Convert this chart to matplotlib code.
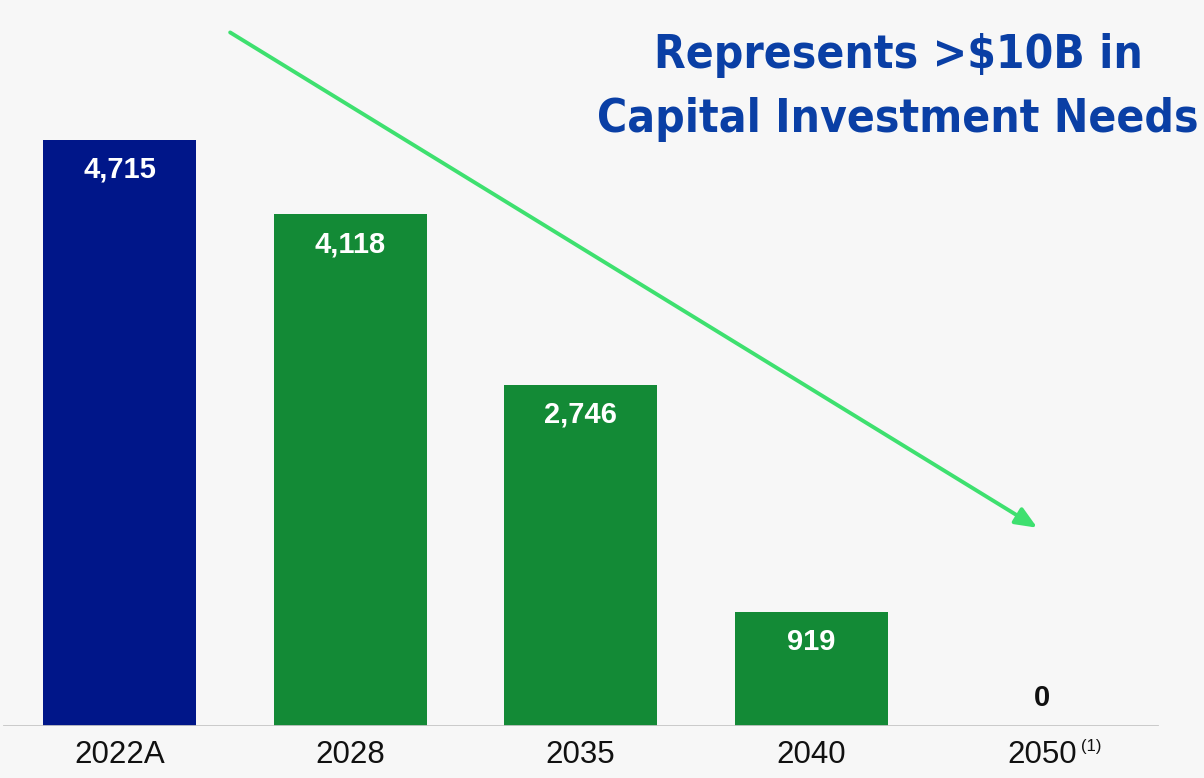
import matplotlib.pyplot as plt
from matplotlib import font_manager

# data
years = ['2022A', '2028', '2035', '2040', '2050']
capacity = [4715, 4118, 2746, 919, 0]
bar_colors = ['#001689', '#138a36', '#138a36', '#138a36', '#138a36']
footnote = '(1)'
headline = ['Represents >$10B in', 'Capital Investment Needs']

# trend arrow ends (data units)
arrow_start = (0.48, 5580)
arrow_end = (3.98, 1595)

# pick a condensed bold face if one is around
head_font = dict(family='DejaVu Sans', stretch='normal')
for f in font_manager.fontManager.ttflist:
    if f.name == 'Liberation Sans Narrow':
        head_font = dict(family='Liberation Sans Narrow', stretch='normal')
        break
    if f.name == 'DejaVu Sans' and f.stretch == 'condensed':
        head_font = dict(family='DejaVu Sans', stretch='condensed')

plt.rcParams['font.family'] = ['Liberation Sans', 'DejaVu Sans']

bg = '#f7f7f7'
fig = plt.figure(figsize=(12.04, 7.78), dpi=100, facecolor=bg)
ax = fig.add_axes([0, 52 / 778, 1, 726 / 778])
ax.set_facecolor(bg)

x = range(len(years))
bars = ax.bar(x, capacity, width=0.664, color=bar_colors, zorder=2)

ax.set_xlim(-0.518, 4.703)
ax.set_ylim(0, 5841)
ax.axhline(0, xmin=4 / 1204, xmax=1157 / 1204, color='#c6c6c6', lw=2, zorder=3)

for s in ax.spines.values():
    s.set_visible(False)
ax.set_yticks([])
ax.set_xticks(list(x))
ax.set_xticklabels(years, fontsize=22.5, color='#111111')
ax.tick_params(axis='x', length=0, pad=10)

# superscript footnote on last label
ax.annotate(footnote, xy=(x[-1], 0), xytext=(28, -15), textcoords='offset points',
            fontsize=12, color='#111111', ha='left', va='center',
            annotation_clip=False)

for xi, v in zip(x, capacity):
    if v > 0:
        ax.annotate(f'{v:,}', xy=(xi, v), xytext=(0, -21.5), textcoords='offset points',
                    ha='center', va='center', fontsize=21, fontweight='bold',
                    color='white', zorder=4)
    else:
        ax.annotate(f'{v:,}', xy=(xi, v), xytext=(0, 20), textcoords='offset points',
                    ha='center', va='center', fontsize=21, fontweight='bold',
                    color='#111111', zorder=4)

ax.annotate('', xy=arrow_end, xytext=arrow_start,
            arrowprops=dict(arrowstyle='-|>,head_length=1.3,head_width=0.55',
                            color='#3ee06f', lw=2.8, shrinkA=0, shrinkB=0),
            zorder=5)

# headline, two lines, sized so the second line is ~600 px wide
renderer = fig.canvas.get_renderer()
lines = []
for txt, yc in zip(headline, [55, 120]):
    t = fig.text(898 / 1204, 1 - yc / 778, txt, ha='center', va='center',
                 fontsize=40, fontweight='bold', color='#0a3fa5', **head_font)
    lines.append(t)
w = lines[1].get_window_extent(renderer).width
size = min(40 * 600 / w, 46)
for t in lines:
    t.set_fontsize(size)

fig.savefig('out.png', dpi=100, facecolor=bg)
